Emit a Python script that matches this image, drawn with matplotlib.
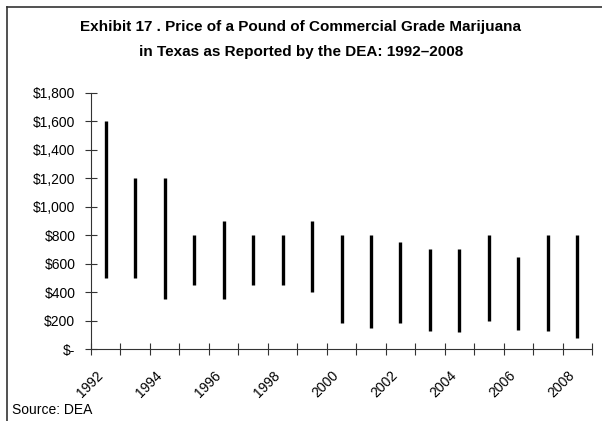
import numpy as np
import matplotlib
matplotlib.use("Agg")
import matplotlib.pyplot as plt
from matplotlib import font_manager
from matplotlib.lines import Line2D
from matplotlib.transforms import ScaledTranslation

# ---- Data: DEA reported price range per pound, Texas ----
years = [str(y) for y in range(1992, 2009)]
low = [500, 500, 350, 450, 350, 450, 450, 400, 180, 150, 180, 125, 120, 200, 135, 125, 80]
high = [1600, 1200, 1200, 800, 900, 800, 800, 900, 800, 800, 750, 700, 700, 800, 650, 800, 800]
yticks = list(range(0, 2000, 200))
ytick_labels = ["$-"] + ["${:,}".format(v) for v in yticks[1:]]

names = {f.name for f in font_manager.fontManager.ttflist}
fam = "Liberation Sans Narrow" if "Liberation Sans Narrow" in names else "Liberation Sans"
plt.rcParams["font.family"] = [fam, "DejaVu Sans"]

fig = plt.figure(figsize=(6.02, 4.21), dpi=100)
ax = fig.add_axes([91 / 602, 1 - 349 / 421, 501 / 602, 256 / 421])

x = np.arange(len(years))
ax.vlines(x, low, high, color="black", lw=2.4)

ax.set_xlim(-0.5, len(years) - 0.5)
ax.set_ylim(0, 1800)
ax.set_yticks(yticks)
ax.set_yticklabels(ytick_labels, fontsize=10)
ax.tick_params(axis="y", direction="inout", length=8.5, width=0.8, color="#333333", pad=7)

ax.set_xticks(np.arange(-0.5, len(years)), labels=[])
ax.tick_params(axis="x", which="major", direction="inout", length=8.5, width=0.8, color="#333333")
ax.set_xticks(x[::2], minor=True)
ax.set_xticklabels(years[::2], minor=True, rotation=45, ha="right",
                   rotation_mode="anchor", fontsize=10)
ax.tick_params(axis="x", which="minor", length=0, pad=14)
shift = ScaledTranslation(-10 / 100, 0, fig.dpi_scale_trans)
for lab in ax.get_xticklabels(minor=True):
    lab.set_transform(lab.get_transform() + shift)

for s in ["top", "right"]:
    ax.spines[s].set_visible(False)
for s in ["left", "bottom"]:
    ax.spines[s].set_color("#333333")
    ax.spines[s].set_linewidth(0.8)

fig.text(0.5, 1 - 27 / 421, "Exhibit 17 . Price of a Pound of Commercial Grade Marijuana",
         ha="center", va="center", fontsize=11, fontweight="bold")
fig.text(0.5, 1 - 52 / 421, "in Texas as Reported by the DEA: 1992\u20132008",
         ha="center", va="center", fontsize=11, fontweight="bold")
fig.text(12 / 602, 1 - 410 / 421, "Source: DEA", ha="left", va="center", fontsize=10)

# frame (top and left edges only)
fig.add_artist(Line2D([7 / 602, 1], [1 - 7 / 421] * 2, transform=fig.transFigure, color="#333333", lw=1.2))
fig.add_artist(Line2D([7 / 602] * 2, [0, 1 - 7 / 421], transform=fig.transFigure, color="#333333", lw=1.2))

fig.savefig("out.png", dpi=100)
